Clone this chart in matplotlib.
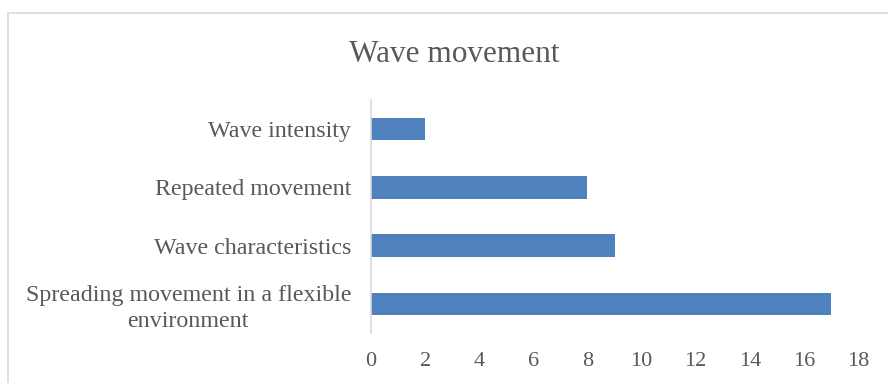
#!/usr/bin/env python3

import matplotlib
matplotlib.use("Agg")
import matplotlib.pyplot as plt
from matplotlib.patches import Rectangle

CATEGORIES = ["Wave intensity", "Repeated movement", "Wave characteristics",
              "Spreading movement in a flexible\nenvironment"]
COUNTS = [2, 8, 9, 17]
X_TICKS = list(range(0, 20, 2))

BAR_COLOR = "#4F81BD"
TEXT_COLOR = "#595959"
LINE_COLOR = "#D9D9D9"

plt.rcParams["font.family"] = ["Liberation Serif", "DejaVu Serif"]

fig = plt.figure(figsize=(8.88, 3.83), dpi=100)
ax = fig.add_axes([371 / 888, 1 - 333 / 383, (858 - 371) / 888, (333 - 100) / 383])

# chart frame, only its top and left edges fall inside the image
fig.patches.append(Rectangle((8 / 888, -0.2), 1.2, 1.2 - 13 / 383,
                             transform=fig.transFigure, fill=False,
                             edgecolor=LINE_COLOR, linewidth=1.2))

ypos = list(range(len(CATEGORIES)))
ax.barh(ypos, COUNTS, height=0.39, color=BAR_COLOR)
ax.set_ylim(-0.5, len(CATEGORIES) - 0.5)
ax.invert_yaxis()
ax.set_xlim(0, 18)
ax.set_xticks(X_TICKS)
ax.set_yticks(ypos)
ax.set_yticklabels(CATEGORIES, ha="right", multialignment="center",
                   linespacing=1.3)

ax.tick_params(axis="y", length=0, pad=14.4, labelsize=17.3, labelcolor=TEXT_COLOR)
ax.tick_params(axis="x", length=0, pad=14, labelsize=16, labelcolor=TEXT_COLOR)

for s in ("top", "right", "bottom"):
    ax.spines[s].set_visible(False)
ax.spines["left"].set_color(LINE_COLOR)
ax.spines["left"].set_linewidth(1.2)

fig.text(454 / 888, 1 - 55 / 383, "Wave movement", ha="center", va="center",
         fontsize=22.5, color=TEXT_COLOR)

fig.savefig("out.png", dpi=100)
